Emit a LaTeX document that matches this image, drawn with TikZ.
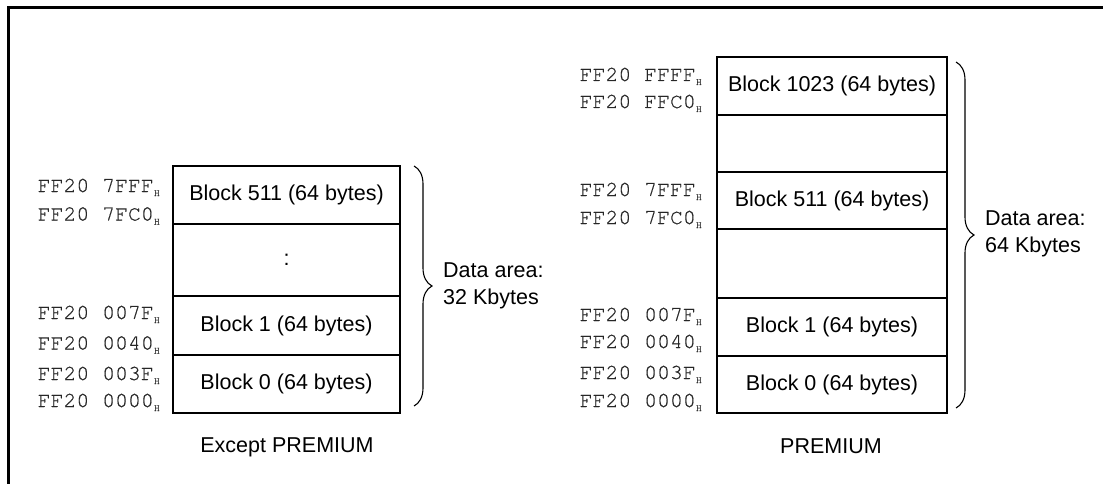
\documentclass[tikz,border=0pt]{standalone}
\usepackage{fontspec}
\setmainfont{Liberation Sans}
\newfontfamily\addrfont[FakeBold=0.6]{TeX Gyre Cursor}
\usetikzlibrary{decorations.pathreplacing}
\newcommand\Hsub{\raisebox{-4pt}{\fontsize{10}{10}\selectfont H}}
\begin{document}
\begin{tikzpicture}[x=1pt,y=-1pt,
  blk/.style={draw,line width=2.6pt,inner sep=0pt,outer sep=0pt,anchor=north west,
    font=\fontsize{21.5}{25}\selectfont},
  lblk/.style={blk,minimum width=227pt},
  rblk/.style={blk,minimum width=230pt},
  addr/.style={font=\addrfont\fontsize{21.5}{24}\selectfont,anchor=base east,inner sep=0pt,text=black!85},
  lbl/.style={font=\fontsize{21.5}{27}\selectfont,inner sep=0pt},
  brc/.style={decorate,decoration={brace,amplitude=18pt},line width=1.1pt}]
\useasboundingbox (0,0) rectangle (1103,484);
\draw[line width=3pt] (8,490) -- (8,8) -- (1110,8);

% left memory map
\node[lblk,minimum height=58pt] (l511) at (173,166) {Block 511 (64 bytes)};
\node[lblk,minimum height=72pt] (ldots) at (173,224) {:};
\node[lblk,minimum height=59pt] (l1) at (173,296) {Block 1 (64 bytes)};
\node[lblk,minimum height=58pt] (l0) at (173,355) {Block 0 (64 bytes)};

\node[addr] (la1) at (160,192) {FF20 7FFF\Hsub};
\node[addr] (la2) at (160,220.5) {FF20 7FC0\Hsub};
\node[addr] (la3) at (160,319) {FF20 007F\Hsub};
\node[addr] (la4) at (160,349.5) {FF20 0040\Hsub};
\node[addr] (la5) at (160,380) {FF20 003F\Hsub};
\node[addr] (la6) at (160,407) {FF20 0000\Hsub};

\draw[brc] ([xshift=14pt]l511.north east) -- ([xshift=14pt,yshift=7pt]l0.south east);
\node[lbl,anchor=west,align=left] (lda) at (443,286) {Data area:\\32 Kbytes};
\node[lbl] (lcap) at (287,447) {Except PREMIUM};

% right memory map
\node[rblk,minimum height=58pt] (r1023) at (717,57) {Block 1023 (64 bytes)};
\node[rblk,minimum height=57pt] (rg1) at (717,115) {};
\node[rblk,minimum height=57pt] (r511) at (717,172) {Block 511 (64 bytes)};
\node[rblk,minimum height=69pt] (rg2) at (717,229) {};
\node[rblk,minimum height=58pt] (r1) at (717,298) {Block 1 (64 bytes)};
\node[rblk,minimum height=57pt] (r0) at (717,356) {Block 0 (64 bytes)};

\node[addr] (ra1) at (702,81) {FF20 FFFF\Hsub};
\node[addr] (ra2) at (702,108) {FF20 FFC0\Hsub};
\node[addr] (ra3) at (702,196) {FF20 7FFF\Hsub};
\node[addr] (ra4) at (702,224) {FF20 7FC0\Hsub};
\node[addr] (ra5) at (702,321) {FF20 007F\Hsub};
\node[addr] (ra6) at (702,348) {FF20 0040\Hsub};
\node[addr] (ra7) at (702,379) {FF20 003F\Hsub};
\node[addr] (ra8) at (702,407) {FF20 0000\Hsub};

\draw[brc] ([xshift=9pt,yshift=-5pt]r1023.north east) -- ([xshift=9pt,yshift=5pt]r0.south east);
\node[lbl,anchor=west,align=left] (rda) at (985,233.5) {Data area:\\64 Kbytes};
\node[lbl] (rcap) at (831,446) {PREMIUM};
\end{tikzpicture}
\end{document}
